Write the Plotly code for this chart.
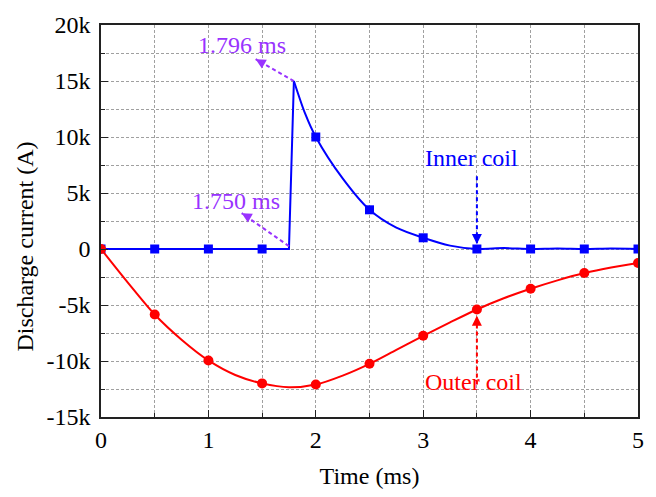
import plotly.graph_objects as go

# ---------------- data ----------------
# Inner coil: flat, sharp rise, then decay (time in ms, current in A)
inner_rise_t = [0.0, 0.5, 1.0, 1.5, 1.75, 1.796]
inner_rise_i = [0, 0, 0, 0, 0, 15000]
inner_decay_t = [1.796, 1.9, 2.0, 2.25, 2.5, 2.75, 3.0, 3.25, 3.5, 3.75, 4.0, 4.25, 4.5, 4.75, 5.0]
inner_decay_i = [15000, 12100, 10000, 6300, 3500, 1900, 1000, 300, 0, 80, 0, 50, 0, 40, 0]
inner_mark_t = [0.0, 0.5, 1.0, 1.5, 2.0, 2.5, 3.0, 3.5, 4.0, 4.5, 5.0]
inner_mark_i = [0, 0, 0, 0, 10000, 3500, 1000, 0, 0, 0, 0]

# Outer coil
outer_t = [0.0, 0.25, 0.5, 0.75, 1.0, 1.25, 1.5, 1.75, 2.0, 2.25, 2.5, 2.75, 3.0, 3.25, 3.5, 3.75, 4.0, 4.25, 4.5, 4.75, 5.0]
outer_i = [0, -3000, -5850, -8100, -9950, -11250, -12000, -12350, -12100, -11300, -10250, -9000, -7750, -6550, -5400, -4400, -3550, -2800, -2150, -1650, -1250]
outer_mark_t = [0.0, 0.5, 1.0, 1.5, 2.0, 2.5, 3.0, 3.5, 4.0, 4.5, 5.0]
outer_mark_i = [0, -5850, -9950, -12000, -12100, -10250, -7750, -5400, -3550, -2150, -1250]

x_ticks = [0, 1, 2, 3, 4, 5]
x_ticktext = ["0", "1", "2", "3", "4", "5"]
y_ticks = [-15000, -10000, -5000, 0, 5000, 10000, 15000, 20000]
y_ticktext = ["-15k", "-10k", "-5k", "0", "5k", "10k", "15k", "20k"]

BLUE = "#0000ff"
RED = "#ff0000"
PURPLE = "#9933ff"
FONT = "Liberation Serif"
GRID = "#a0a0a0"

fig = go.Figure()

fig.add_trace(go.Scatter(x=inner_rise_t, y=inner_rise_i, mode="lines",
                         line=dict(color=BLUE, width=2), hoverinfo="skip"))
fig.add_trace(go.Scatter(x=inner_decay_t, y=inner_decay_i, mode="lines",
                         line=dict(color=BLUE, width=2, shape="spline", smoothing=0.8),
                         hoverinfo="skip"))
fig.add_trace(go.Scatter(x=inner_mark_t, y=inner_mark_i, mode="markers",
                         marker=dict(symbol="square", size=9, color=BLUE)))

fig.add_trace(go.Scatter(x=outer_t, y=outer_i, mode="lines",
                         line=dict(color=RED, width=2, shape="spline", smoothing=0.8),
                         hoverinfo="skip"))
fig.add_trace(go.Scatter(x=outer_mark_t, y=outer_mark_i, mode="markers",
                         marker=dict(symbol="circle", size=10, color=RED)))


def dashed_arrow(x0, y0, x1, y1, color, ax, ay):
    """Dashed shaft from (x0,y0) to tip (x1,y1) with an arrow head at the tip."""
    fig.add_shape(type="line", xref="x", yref="y", x0=x0, y0=y0, x1=x1, y1=y1,
                  line=dict(color=color, width=2, dash="4px,3px"), layer="above")
    fig.add_annotation(x=x1, y=y1, xref="x", yref="y", text="", showarrow=True,
                       ax=ax, ay=ay, arrowhead=2, arrowsize=1.0, arrowwidth=2,
                       arrowcolor=color)


# peak 1.796 ms
dashed_arrow(inner_rise_t[-1], inner_rise_i[-1], 1.44, 16950, PURPLE, 7, 4)
fig.add_annotation(x=1.31, y=18250, xref="x", yref="y", text="1.796 ms", showarrow=False,
                   font=dict(family=FONT, size=24, color=PURPLE))
# start 1.750 ms
dashed_arrow(inner_rise_t[-2], inner_rise_i[-2] + 250, 1.31, 3200, PURPLE, 7, 4)
fig.add_annotation(x=1.26, y=4300, xref="x", yref="y", text="1.750 ms", showarrow=False,
                   font=dict(family=FONT, size=24, color=PURPLE))
# Inner coil label
dashed_arrow(3.5, 6500, 3.5, 450, BLUE, 0, -8)
fig.add_annotation(x=3.45, y=8100, xref="x", yref="y", text="Inner coil", showarrow=False,
                   font=dict(family=FONT, size=24, color=BLUE))
# Outer coil label
dashed_arrow(3.5, -12100, 3.5, -5950, RED, 0, 8)
fig.add_annotation(x=3.47, y=-11850, xref="x", yref="y", text="Outer coil", showarrow=False,
                   font=dict(family=FONT, size=24, color=RED))

# y-axis title (placed as in the reference, slightly below the plot centre)
fig.add_annotation(x=-0.1413, y=0.435, xref="paper", yref="paper", text="Discharge current (A)",
                   textangle=-90, showarrow=False, xanchor="center", yanchor="middle",
                   font=dict(family=FONT, size=24, color="black"))

axis_common = dict(
    showline=True, mirror=True, linecolor="#222", linewidth=1.5,
    ticks="inside", ticklen=7, tickwidth=1.2, tickcolor="#222",
    showgrid=True, gridcolor=GRID, gridwidth=1, griddash="3px,2px",
    zeroline=False,
    tickfont=dict(family=FONT, size=24, color="black"),
)

fig.update_xaxes(
    range=[0, 5], tickvals=x_ticks, ticktext=x_ticktext,
    minor=dict(dtick=0.5, tick0=0, ticks="inside", ticklen=4, tickcolor="#222",
               showgrid=True, gridcolor=GRID, gridwidth=1, griddash="3px,2px"),
    title=dict(text="Time (ms)", font=dict(family=FONT, size=24, color="black"), standoff=16),
    **axis_common,
)
fig.update_yaxes(
    range=[-15000, 20000], tickvals=y_ticks, ticktext=y_ticktext,
    minor=dict(dtick=2500, tick0=0, ticks="inside", ticklen=4, tickcolor="#222",
               showgrid=True, gridcolor=GRID, gridwidth=1, griddash="3px,2px"),
    ticklabelstandoff=4,
    **axis_common,
)

fig.update_layout(
    width=656, height=497,
    margin=dict(l=101, r=17, t=17, b=75),
    paper_bgcolor="white", plot_bgcolor="white",
    showlegend=False,
    font=dict(family=FONT, size=24, color="black"),
)

fig.write_html("out.html")
